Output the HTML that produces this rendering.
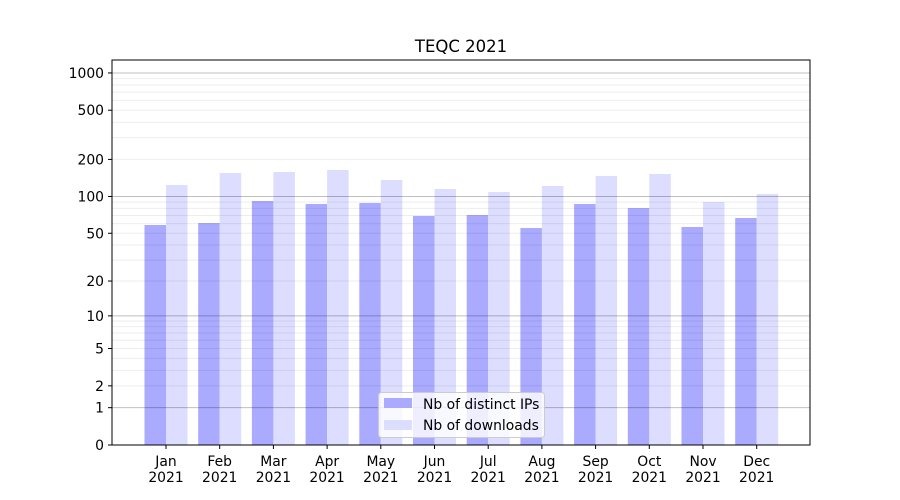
<!DOCTYPE html>
<html><head><meta charset="utf-8"><style>body{margin:0;background:#fff}svg{display:block}text{font-family:"DejaVu Sans","Liberation Sans",sans-serif}</style></head>
<body><svg id="s" width="900" height="500" xmlns="http://www.w3.org/2000/svg"></svg>
<script>
const s=document.getElementById('s');let h='';
const Y=v=>445-124*Math.log10(1+v);
const dark=[225,223,201,204,203,216,215,228,204,208,227,218];
const light=[185,173,172,170,180,189,192,186,176,174,202,194];
const mon=['Jan','Feb','Mar','Apr','May','Jun','Jul','Aug','Sep','Oct','Nov','Dec'];
const F=13.9;
h+='<rect x="0" y="0" width="900" height="500" fill="#fff"/>';
for(let i=0;i<12;i++){const c=166+i*53.7;
h+=`<rect x="${c-21.5}" y="${dark[i]}" width="21.5" height="${445-dark[i]}" fill="#aaaaff"/>`;
h+=`<rect x="${c}" y="${light[i]}" width="21.5" height="${445-light[i]}" fill="#ddddff"/>`;}
for(let d=1;d<=1000;d*=10){for(let m=1;m<10;m++){const v=d*m;if(v>1200)break;const y=Y(v);
if(m==1)h+=`<line x1="112" x2="810" y1="${y}" y2="${y}" stroke="#000" stroke-opacity="0.25" stroke-width="1"/>`;
else h+=`<line x1="112" x2="810" y1="${y}" y2="${y}" stroke="#000" stroke-opacity="0.07" stroke-width="1"/>`;}}
h+='<rect x="112" y="60" width="698" height="385" fill="none" stroke="#000" stroke-width="1"/>';
[0,1,2,5,10,20,50,100,200,500,1000].forEach(v=>{const y=Y(v);h+=`<line x1="108" x2="112" y1="${y}" y2="${y}" stroke="#000"/><text x="104" y="${y+5}" font-size="${F}" text-anchor="end">${v}</text>`;});
for(let i=0;i<12;i++){const c=166+i*53.7;h+=`<line x1="${c}" x2="${c}" y1="445" y2="449" stroke="#000"/><text x="${c}" y="466" font-size="${F}" text-anchor="middle">${mon[i]}</text><text x="${c}" y="482" font-size="${F}" text-anchor="middle">2021</text>`;}
h+='<text x="461" y="52" font-size="16.5" text-anchor="middle">TEQC 2021</text>';
h+='<rect x="378.5" y="392.5" width="166" height="45" rx="3" fill="#fff" fill-opacity="0.8" stroke="#ccc"/>';
h+=`<rect x="384" y="398" width="28" height="10" fill="#aaaaff"/><text x="423" y="409" font-size="${F}">Nb of distinct IPs</text>`;
h+=`<rect x="384" y="420" width="28" height="10" fill="#ddddff"/><text x="423" y="430" font-size="${F}">Nb of downloads</text>`;
s.innerHTML=h;
</script></body></html>
